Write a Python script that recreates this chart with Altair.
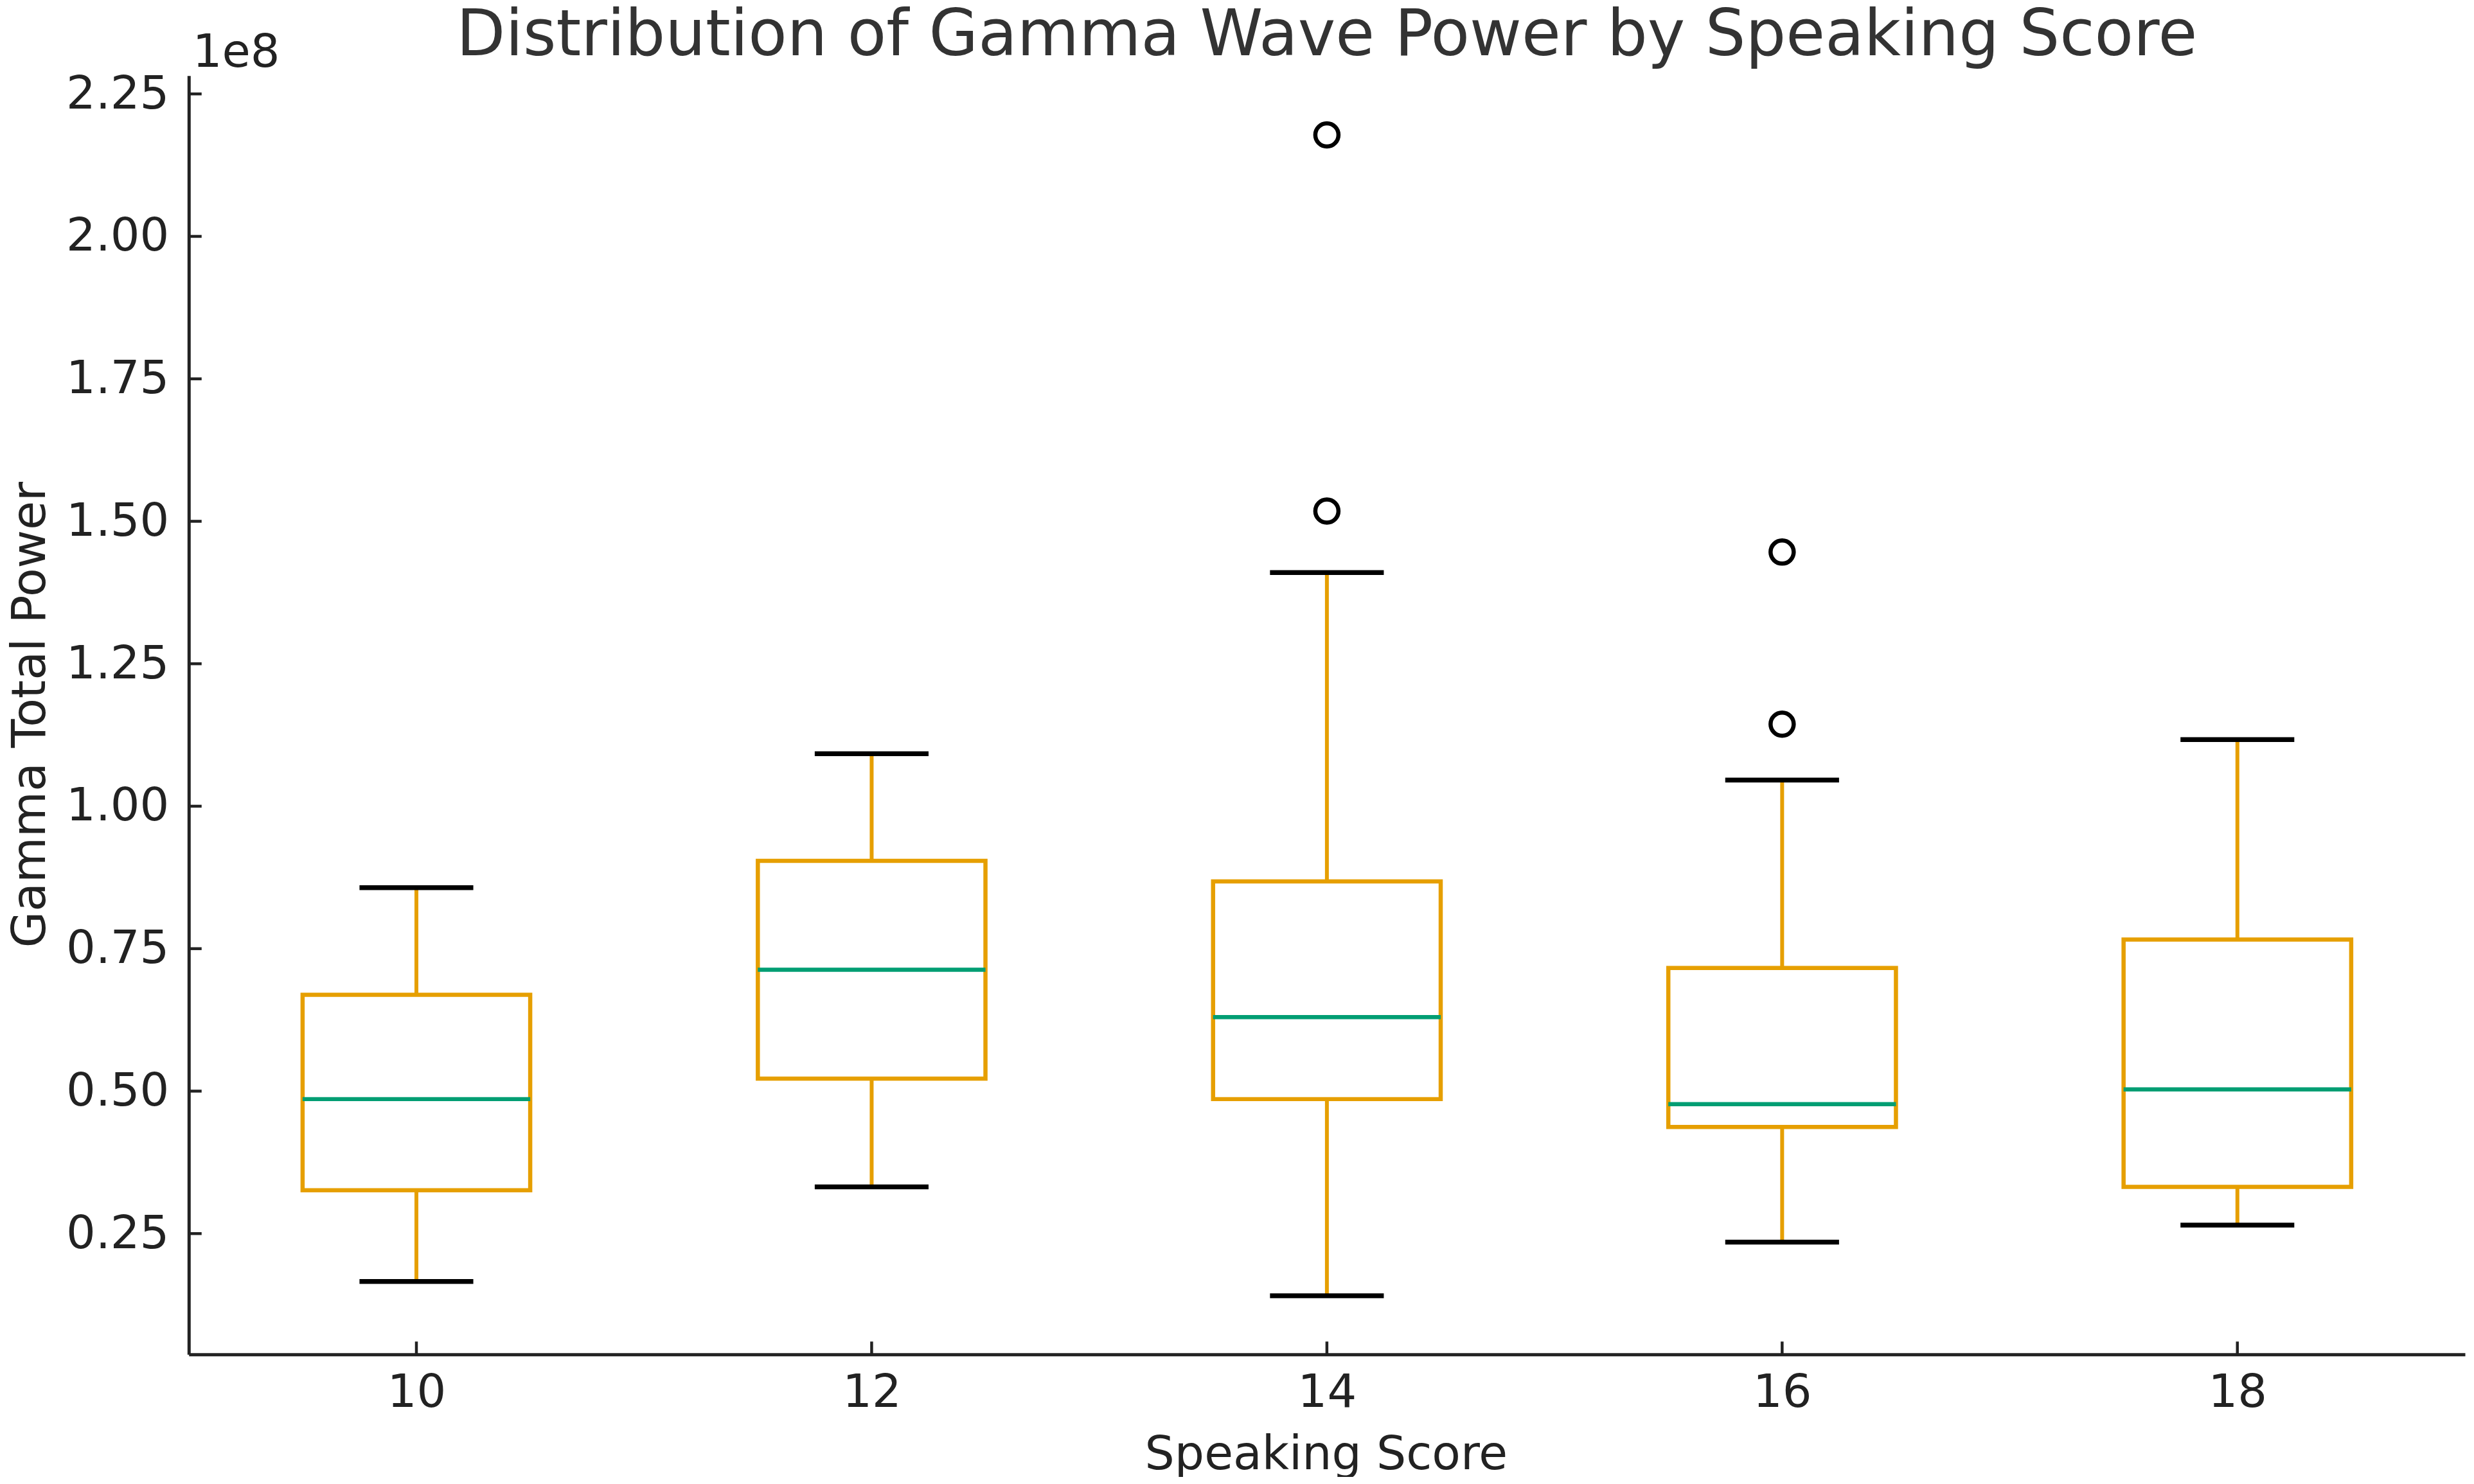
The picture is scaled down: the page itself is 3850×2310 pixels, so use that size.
import altair as alt
import pandas as pd

# ---- data (values in units of the axis, i.e. x 1e8) ----
scores = [10, 12, 14, 16, 18]
whisker_low = [0.166, 0.332, 0.141, 0.235, 0.265]
q1 = [0.326, 0.522, 0.486, 0.437, 0.332]
median = [0.486, 0.713, 0.630, 0.477, 0.503]
q3 = [0.669, 0.904, 0.868, 0.716, 0.766]
whisker_high = [0.857, 1.092, 1.410, 1.046, 1.117]
outlier_score = [14, 14, 16, 16]
outlier_value = [2.178, 1.518, 1.446, 1.144]
y_ticks = [0.25, 0.50, 0.75, 1.00, 1.25, 1.50, 1.75, 2.00, 2.25]
title_text = "Distribution of Gamma Wave Power by Speaking Score"
SCALE = 1e8

ORANGE = "#E69F00"
GREEN = "#009E73"
INK = "#222222"
FONT = "DejaVu Sans"

W, H = 3545, 1992

boxes = pd.DataFrame({
    "score": scores,
    "lo": [v * SCALE for v in whisker_low],
    "q1": [v * SCALE for v in q1],
    "med": [v * SCALE for v in median],
    "q3": [v * SCALE for v in q3],
    "hi": [v * SCALE for v in whisker_high],
})
outliers = pd.DataFrame({"score": outlier_score, "val": [v * SCALE for v in outlier_value]})
yt = pd.DataFrame({"t": [v * SCALE for v in y_ticks]})

xs = alt.Scale(domain=[9, 19], nice=False, zero=False)
ys = alt.Scale(domain=[0.038 * SCALE, 2.282 * SCALE], nice=False, zero=False)

base = alt.Chart(boxes).transform_calculate(
    bx0="datum.score - 0.5", bx1="datum.score + 0.5",
    cx0="datum.score - 0.25", cx1="datum.score + 0.25",
)

x_axis = alt.Axis(
    values=scores, tickSize=0, labelPadding=24, labelFontSize=72, labelFont=FONT,
    labelExpr="format(datum.value, 'd')",
    labelColor=INK, domainColor=INK, domainWidth=5, grid=False,
    title="Speaking Score", titleFontSize=73, titleFont=FONT, titleColor=INK,
    titleFontWeight="normal", titleX=1771, titleY=178, titleBaseline="alphabetic",
    titleAlign="center",
)
y_axis = alt.Axis(
    values=[v * SCALE for v in y_ticks], tickSize=0, labelPadding=31,
    labelExpr="format(datum.value / 1e8, '.2f')", labelFontSize=72, labelFont=FONT,
    labelColor=INK, domainColor=INK, domainWidth=5, grid=False,
    title="Gamma Total Power", titleFontSize=73, titleFont=FONT, titleColor=INK,
    titleFontWeight="normal", titleX=-224, titleY=995, titleAngle=-90,
    titleBaseline="alphabetic", titleAlign="center",
)

whisk_low = base.mark_rule(color=ORANGE, strokeWidth=6).encode(
    x=alt.X("score:Q", scale=xs, axis=x_axis),
    y=alt.Y("lo:Q", scale=ys, axis=y_axis),
    y2="q1:Q",
)
whisk_high = base.mark_rule(color=ORANGE, strokeWidth=6).encode(
    x="score:Q", y="q3:Q", y2="hi:Q"
)
box = base.mark_rect(fill="white", fillOpacity=0, stroke=ORANGE, strokeWidth=6.5).encode(
    x="bx0:Q", x2="bx1:Q", y="q1:Q", y2="q3:Q"
)
med = base.mark_rule(color=GREEN, strokeWidth=6.5).encode(
    x="bx0:Q", x2="bx1:Q", y="med:Q"
)
cap_lo = base.mark_rule(color="#000000", strokeWidth=7.5).encode(
    x="cx0:Q", x2="cx1:Q", y="lo:Q"
)
cap_hi = base.mark_rule(color="#000000", strokeWidth=7.5).encode(
    x="cx0:Q", x2="cx1:Q", y="hi:Q"
)
pts = alt.Chart(outliers).mark_point(
    shape="circle", filled=False, stroke="#000000", strokeWidth=6.5, size=1300, opacity=1
).encode(x="score:Q", y="val:Q")

ytick_marks = alt.Chart(yt).mark_rule(color=INK, strokeWidth=4.5).encode(
    y="t:Q", x=alt.value(0), x2=alt.value(20)
)
xtick_marks = base.mark_rule(color=INK, strokeWidth=4.5).encode(
    x="score:Q", y=alt.value(H), y2=alt.value(H - 20)
)
offset_text = alt.Chart(pd.DataFrame({"s": ["1e8"]})).mark_text(
    align="left", baseline="alphabetic", fontSize=72, font=FONT, color=INK
).encode(text="s:N", x=alt.value(6), y=alt.value(-14))
title_mark = alt.Chart(pd.DataFrame({"s": [title_text]})).mark_text(
    align="center", baseline="alphabetic", fontSize=99, font=FONT, color="#333333"
).encode(text="s:N", x=alt.value(W / 2), y=alt.value(-32))

chart = alt.layer(
    whisk_low, whisk_high, box, med, cap_lo, cap_hi, pts, ytick_marks, xtick_marks,
    offset_text, title_mark
).properties(
    width=W, height=H,
    view=alt.ViewBackground(stroke="transparent", strokeWidth=0, fill="white"),
    autosize=alt.AutoSizeParams(type="none"),
    padding={"left": 286, "top": 109, "right": 6, "bottom": 190},
).configure_view(stroke="transparent", strokeWidth=0).configure(background="white")

chart.save("out.html", embed_options={"renderer": "svg", "actions": False})
